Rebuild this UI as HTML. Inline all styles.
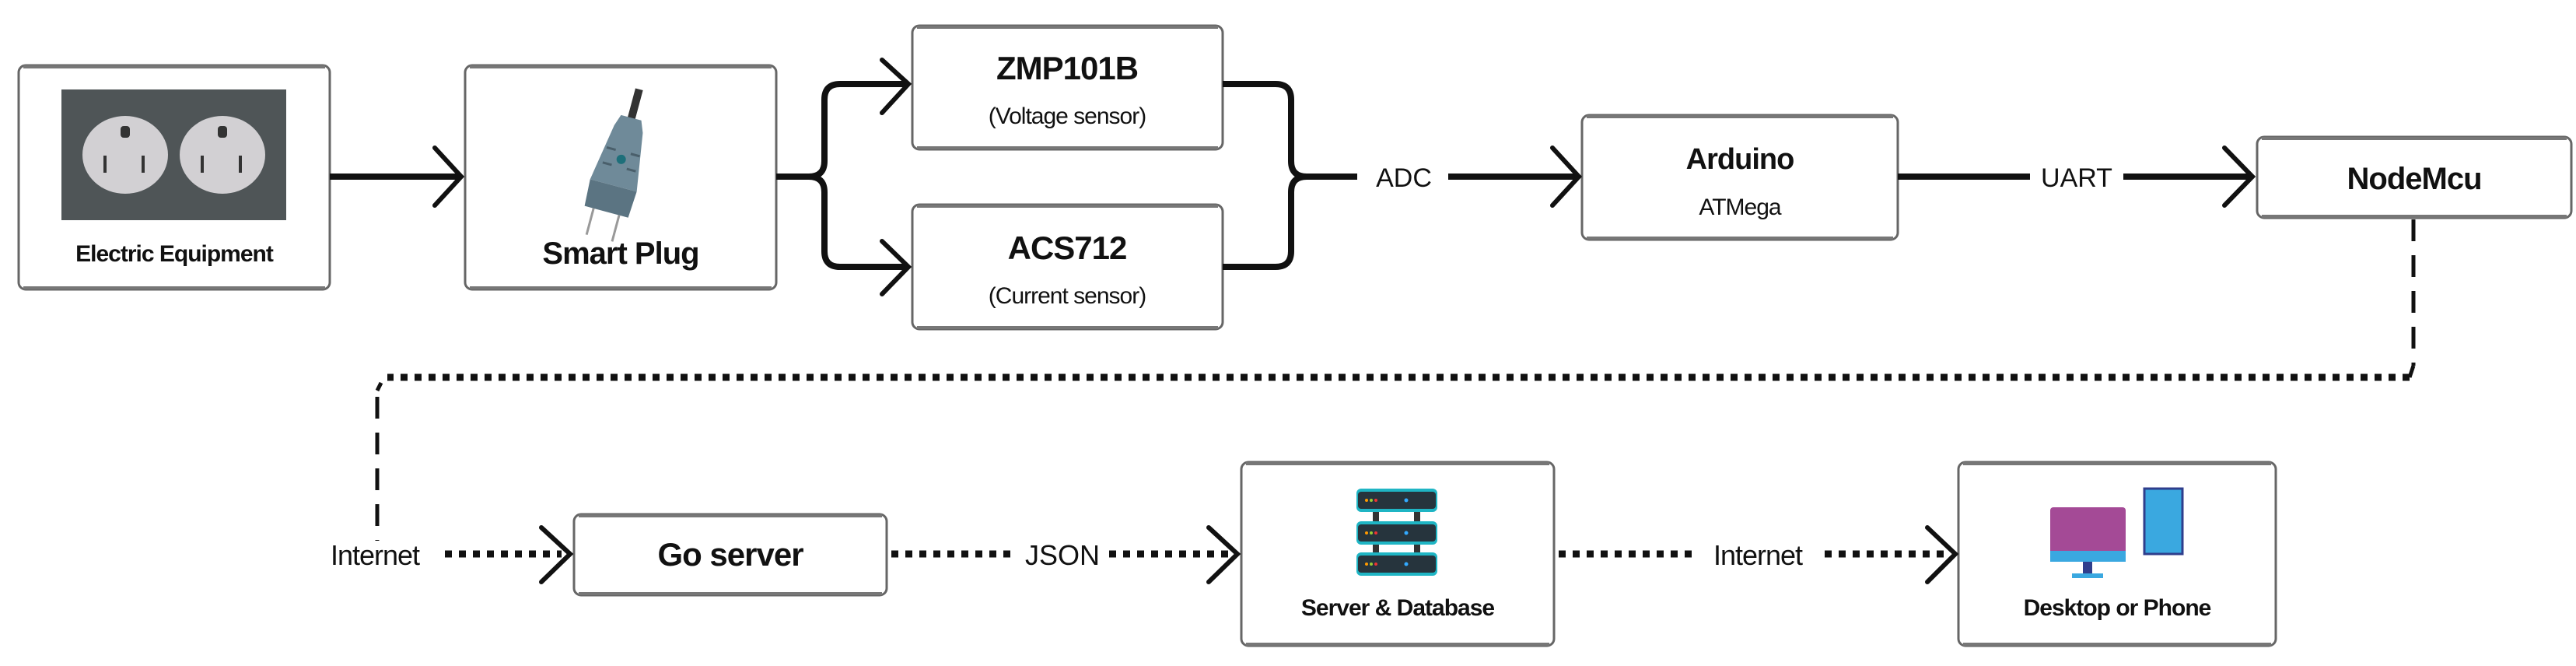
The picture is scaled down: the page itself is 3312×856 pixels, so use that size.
<!DOCTYPE html>
<html><head><meta charset="utf-8"><style>
html,body{margin:0;padding:0;background:#fff;}
svg{display:block;}
text{font-family:"Liberation Sans",sans-serif;fill:#111;}
.b{font-weight:bold;}
</style></head><body>
<svg width="3312" height="856" viewBox="0 0 3312 856" xmlns="http://www.w3.org/2000/svg">
<defs>
<g id="none"></g>
</defs>
<!-- boxes -->
<g fill="#fff" stroke="#666" stroke-width="3">
<rect x="24" y="84" width="400" height="288" rx="9"/>
<rect x="598" y="84" width="400" height="288" rx="9"/>
<rect x="1173" y="33" width="399" height="159" rx="9"/>
<rect x="1173" y="263" width="399" height="160" rx="9"/>
<rect x="2034" y="148" width="406" height="160" rx="9"/>
<rect x="2902" y="176" width="404" height="104" rx="9"/>
<rect x="738" y="661" width="402" height="104" rx="9"/>
<rect x="1596" y="594" width="402" height="236" rx="9"/>
<rect x="2518" y="594" width="408" height="236" rx="9"/>
</g>
<g stroke="#777" stroke-width="4">
<line x1="30" y1="86" x2="418" y2="86"/><line x1="30" y1="370" x2="418" y2="370"/>
<line x1="604" y1="86" x2="992" y2="86"/><line x1="604" y1="370" x2="992" y2="370"/>
<line x1="1179" y1="35" x2="1566" y2="35"/><line x1="1179" y1="190" x2="1566" y2="190"/>
<line x1="1179" y1="265" x2="1566" y2="265"/><line x1="1179" y1="421" x2="1566" y2="421"/>
<line x1="2040" y1="150" x2="2434" y2="150"/><line x1="2040" y1="306" x2="2434" y2="306"/>
<line x1="2908" y1="178" x2="3300" y2="178"/><line x1="2908" y1="278" x2="3300" y2="278"/>
<line x1="744" y1="663" x2="1134" y2="663"/><line x1="744" y1="763" x2="1134" y2="763"/>
<line x1="1602" y1="596" x2="1992" y2="596"/><line x1="1602" y1="828" x2="1992" y2="828"/>
<line x1="2524" y1="596" x2="2920" y2="596"/><line x1="2524" y1="828" x2="2920" y2="828"/>
</g>
<!-- outlet icon -->
<rect x="79" y="115" width="289" height="168" fill="#4f5557"/>
<ellipse cx="161" cy="199" rx="55" ry="50" fill="#d2d0d3"/>
<ellipse cx="286" cy="199" rx="55" ry="50" fill="#d2d0d3"/>
<g fill="#333">
<rect x="155" y="162" width="12" height="15" rx="4"/><rect x="280" y="162" width="12" height="15" rx="4"/>
<rect x="133" y="200" width="4" height="22"/><rect x="182" y="200" width="4" height="22"/>
<rect x="258" y="200" width="4" height="22"/><rect x="307" y="200" width="4" height="22"/>
</g>
<!-- smart plug icon -->
<g transform="rotate(15 800 200)">
<rect x="794" y="112" width="10" height="40" fill="#333"/>
<path d="M785 150 L812 150 L818 165 L830 240 L768 240 L780 165 Z" fill="#6f8a99"/>
<path d="M768 240 L830 240 L828 275 L770 275 Z" fill="#5b7482"/>
<circle cx="800" cy="205" r="6" fill="#1d6f7a"/>
<g stroke="#4a5f6b" stroke-width="3"><line x1="778" y1="195" x2="790" y2="195"/><line x1="778" y1="215" x2="790" y2="215"/><line x1="810" y1="195" x2="822" y2="195"/><line x1="810" y1="215" x2="822" y2="215"/></g>
<line x1="782" y1="275" x2="782" y2="310" stroke="#999" stroke-width="3"/><line x1="816" y1="275" x2="816" y2="310" stroke="#999" stroke-width="3"/>
</g>
<!-- server icon -->
<g>
<rect x="1744" y="628" width="104" height="30" rx="6" fill="#1fb5c4"/><rect x="1746" y="632" width="100" height="22" rx="4" fill="#26343d"/>
<rect x="1744" y="670" width="104" height="30" rx="6" fill="#1fb5c4"/><rect x="1746" y="674" width="100" height="22" rx="4" fill="#26343d"/>
<rect x="1744" y="710" width="104" height="30" rx="6" fill="#1fb5c4"/><rect x="1746" y="714" width="100" height="22" rx="4" fill="#26343d"/>
<g fill="#333"><rect x="1765" y="658" width="8" height="12"/><rect x="1818" y="658" width="8" height="12"/><rect x="1765" y="700" width="8" height="10"/><rect x="1818" y="700" width="8" height="10"/></g>
<g><circle cx="1757" cy="643" r="2" fill="#f90"/><circle cx="1763" cy="643" r="2" fill="#9c3"/><circle cx="1769" cy="643" r="2" fill="#e33"/><circle cx="1808" cy="643" r="2.5" fill="#3af"/>
<circle cx="1757" cy="685" r="2" fill="#f90"/><circle cx="1763" cy="685" r="2" fill="#9c3"/><circle cx="1769" cy="685" r="2" fill="#e33"/><circle cx="1808" cy="685" r="2.5" fill="#3af"/>
<circle cx="1757" cy="725" r="2" fill="#f90"/><circle cx="1763" cy="725" r="2" fill="#9c3"/><circle cx="1769" cy="725" r="2" fill="#e33"/><circle cx="1808" cy="725" r="2.5" fill="#3af"/></g>
</g>
<!-- desktop/phone icon -->
<rect x="2636" y="652" width="97" height="60" rx="4" fill="#a44a96"/>
<rect x="2636" y="708" width="97" height="14" fill="#3aa8e0"/>
<rect x="2678" y="722" width="12" height="20" fill="#2f3e8c"/>
<rect x="2664" y="737" width="40" height="6" fill="#3aa8e0"/>
<rect x="2757" y="628" width="49" height="84" fill="#3aa8e0" stroke="#2f3e8c" stroke-width="3"/>
<!-- solid connectors -->
<g fill="none" stroke="#111" stroke-width="8" stroke-linejoin="round">
<line x1="424" y1="227" x2="590" y2="227"/>
<path d="M998 227 H1040 Q1060 227 1060 207 V128 Q1060 108 1080 108 H1168"/>
<path d="M1040 227 Q1060 227 1060 247 V323 Q1060 343 1080 343 H1168"/>
<path d="M1572 108 H1640 Q1660 108 1660 128 V207 Q1660 227 1680 227 H1745"/>
<path d="M1572 343 H1640 Q1660 343 1660 323 V247 Q1660 227 1680 227"/>
<line x1="1862" y1="227" x2="2026" y2="227"/>
<line x1="2440" y1="227" x2="2610" y2="227"/>
<line x1="2730" y1="227" x2="2894" y2="227"/>
</g>
<g fill="none" stroke="#111" stroke-width="6" stroke-linecap="round" stroke-linejoin="miter">
<polyline points="559,190 593,227 559,264"/>
<polyline points="1134,77 1168,108 1134,145"/>
<polyline points="1134,310 1168,343 1134,378"/>
<polyline points="1996,190 2030,227 1996,264"/>
<polyline points="2860,190 2896,227 2860,264"/>
<polyline points="696,678 733,712 696,748"/>
<polyline points="1554,678 1591,712 1554,748"/>
<polyline points="2478,678 2514,712 2478,748"/>
</g>
<!-- dashed connectors -->
<g fill="none" stroke="#111">
<line x1="3103" y1="282" x2="3103" y2="470" stroke-width="5" stroke-dasharray="28,18"/>
<line x1="3098" y1="485" x2="498" y2="485" stroke-width="9" stroke-dasharray="9,9"/>
<line x1="3103" y1="470" x2="3098" y2="485" stroke-width="5"/>
<line x1="490" y1="492" x2="485" y2="502" stroke-width="5"/>
<line x1="485" y1="510" x2="485" y2="695" stroke-width="5" stroke-dasharray="28,18"/>
<g stroke-width="9" stroke-dasharray="9,9">
<line x1="572" y1="712" x2="722" y2="712"/>
<line x1="1146" y1="712" x2="1306" y2="712"/>
<line x1="1426" y1="712" x2="1580" y2="712"/>
<line x1="2004" y1="712" x2="2176" y2="712"/>
<line x1="2346" y1="712" x2="2500" y2="712"/>
</g>
</g>
<!-- labels -->
<g text-anchor="middle">
<text class="b" x="224" y="336" font-size="30" letter-spacing="-1">Electric Equipment</text>
<text class="b" x="798" y="339" font-size="40" letter-spacing="-1">Smart Plug</text>
<text class="b" x="1372" y="102" font-size="42" letter-spacing="-1">ZMP101B</text>
<text x="1372" y="159" font-size="30" letter-spacing="-1">(Voltage sensor)</text>
<text class="b" x="1372" y="333" font-size="42" letter-spacing="-1">ACS712</text>
<text x="1372" y="390" font-size="30" letter-spacing="-1">(Current sensor)</text>
<text x="1805" y="240" font-size="34">ADC</text>
<text class="b" x="2237" y="217" font-size="38" letter-spacing="-1">Arduino</text>
<text x="2237" y="276" font-size="30" letter-spacing="-1">ATMega</text>
<text x="2670" y="240" font-size="34">UART</text>
<text class="b" x="3104" y="243" font-size="40" letter-spacing="-1">NodeMcu</text>
<text x="482" y="726" font-size="36" letter-spacing="-1">Internet</text>
<text class="b" x="939" y="727" font-size="42" letter-spacing="-1">Go server</text>
<text x="1366" y="726" font-size="36">JSON</text>
<text class="b" x="1797" y="791" font-size="30" letter-spacing="-1">Server &amp; Database</text>
<text x="2260" y="726" font-size="36" letter-spacing="-1">Internet</text>
<text class="b" x="2722" y="791" font-size="30" letter-spacing="-1">Desktop or Phone</text>
</g>
</svg>
</body></html>
